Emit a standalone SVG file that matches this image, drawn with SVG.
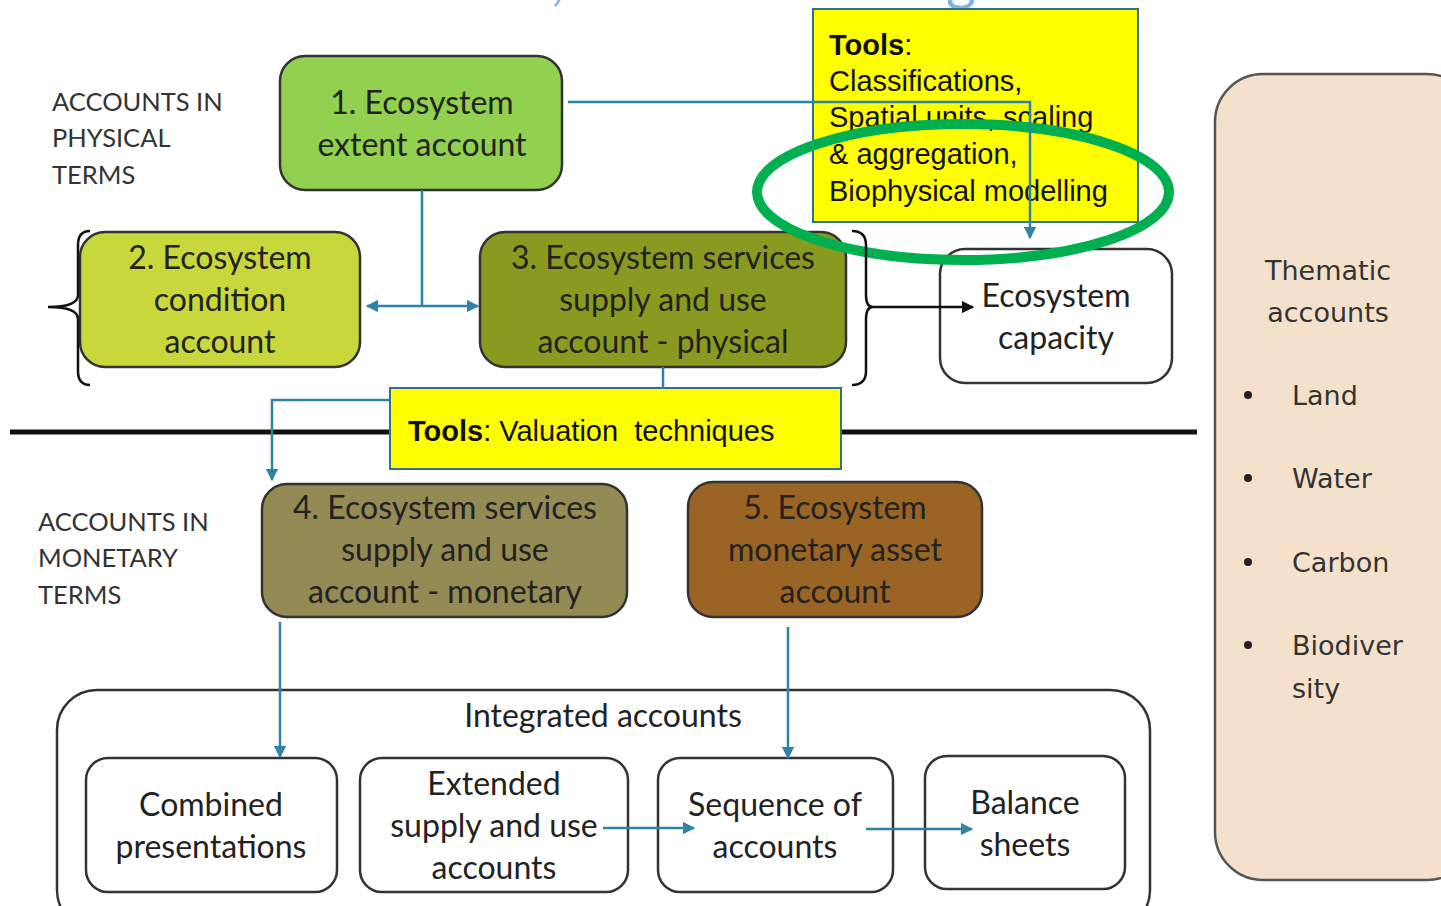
<svg xmlns="http://www.w3.org/2000/svg" width="1441" height="906" viewBox="0 0 1441 906">
<defs>
<style>
.t{font-family:Lato,"Open Sans",sans-serif;font-size:32px;fill:#222;text-anchor:middle}
.lbl{font-family:Lato,"Open Sans",sans-serif;font-size:25.5px;fill:#333}
.ar{font-family:"Liberation Sans",Arial,sans-serif;font-size:29px;fill:#111}
.th{font-family:"DejaVu Sans","Open Sans",sans-serif;font-size:27px;fill:#333}
.node{stroke:#333;stroke-width:2.5}
.wbox{fill:#fff;stroke:#333;stroke-width:2.5}
.con{fill:none;stroke:#2f84a6;stroke-width:2.5}
.blk{fill:none;stroke:#111;stroke-width:2.5}
</style>
<marker id="ab" viewBox="0 0 10 10" refX="9" refY="5" markerWidth="5" markerHeight="5" orient="auto-start-reverse"><path d="M0,0 L10,5 L0,10 z" fill="#2f84a6"/></marker>
<marker id="ak" viewBox="0 0 10 10" refX="9" refY="5" markerWidth="5" markerHeight="5" orient="auto"><path d="M0,0 L10,5 L0,10 z" fill="#111"/></marker>
</defs>
<rect width="1441" height="906" fill="#fff"/>
<text x="55" y="-1" font-family="Lato,sans-serif" font-size="58" fill="#7fb2e5">SEEA EEA accounts, tools and linkages</text>

<text class="lbl"><tspan x="52" y="111">ACCOUNTS IN</tspan><tspan x="52" y="147">PHYSICAL</tspan><tspan x="52" y="184">TERMS</tspan></text>
<text class="lbl"><tspan x="38" y="531">ACCOUNTS IN</tspan><tspan x="38" y="567">MONETARY</tspan><tspan x="38" y="604">TERMS</tspan></text>

<line x1="10" y1="432" x2="1197" y2="432" stroke="#111" stroke-width="5"/>

<g id="tools1">
<rect x="813" y="9" width="325" height="213" fill="#ffff00" stroke="#31708f" stroke-width="2"/>
<text class="ar"><tspan x="829" y="55" font-weight="bold">Tools</tspan><tspan>:</tspan><tspan x="829" y="91">Classifications,</tspan><tspan x="829" y="127">Spatial units, scaling</tspan><tspan x="829" y="164">&amp; aggregation,</tspan><tspan x="829" y="201">Biophysical modelling</tspan></text>
</g>

<g id="n1">
<rect class="node" x="280" y="56" width="282" height="134" rx="25" fill="#92d050"/>
<text class="t"><tspan x="422" y="114">1. Ecosystem</tspan><tspan x="422" y="156">extent account</tspan></text>
</g>
<g id="n2">
<rect class="node" x="80" y="232" width="280" height="135" rx="25" fill="#c8d73b"/>
<text class="t"><tspan x="220" y="269">2. Ecosystem</tspan><tspan x="220" y="311">condition</tspan><tspan x="220" y="353">account</tspan></text>
</g>
<g id="n3">
<rect class="node" x="480" y="232" width="366" height="135" rx="25" fill="#8a9a20"/>
<text class="t"><tspan x="663" y="269">3. Ecosystem services</tspan><tspan x="663" y="311">supply and use</tspan><tspan x="663" y="353">account - physical</tspan></text>
</g>
<g id="capacity">
<rect class="wbox" x="940" y="249" width="232" height="134" rx="25"/>
<text class="t"><tspan x="1056" y="307">Ecosystem</tspan><tspan x="1056" y="349">capacity</tspan></text>
</g>

<ellipse cx="963" cy="192" rx="206" ry="68" fill="none" stroke="#00b050" stroke-width="10"/>

<g id="tools2">
<rect x="390" y="388" width="451" height="81" fill="#ffff00" stroke="#31708f" stroke-width="2"/>
<text class="ar" x="408" y="441" xml:space="preserve"><tspan font-weight="bold">Tools</tspan>: Valuation  techniques</text>
</g>

<g id="n4">
<rect class="node" x="262" y="484" width="365" height="133" rx="25" fill="#948a54"/>
<text class="t"><tspan x="445" y="519">4. Ecosystem services</tspan><tspan x="445" y="561">supply and use</tspan><tspan x="445" y="603">account - monetary</tspan></text>
</g>
<g id="n5">
<rect class="node" x="688" y="482" width="294" height="135" rx="25" fill="#9a6424"/>
<text class="t"><tspan x="835" y="519">5. Ecosystem</tspan><tspan x="835" y="561">monetary asset</tspan><tspan x="835" y="603">account</tspan></text>
</g>

<g id="integrated">
<rect class="wbox" x="57" y="690" width="1093" height="240" rx="40"/>
<text class="t" x="603" y="727">Integrated accounts</text>
</g>
<g id="combined">
<rect class="wbox" x="86" y="758" width="251" height="134" rx="22"/>
<text class="t"><tspan x="211" y="816">Combined</tspan><tspan x="211" y="858">presentations</tspan></text>
</g>
<g id="extended">
<rect class="wbox" x="360" y="758" width="268" height="134" rx="22"/>
<text class="t"><tspan x="494" y="795">Extended</tspan><tspan x="494" y="837">supply and use</tspan><tspan x="494" y="879">accounts</tspan></text>
</g>
<g id="sequence">
<rect class="wbox" x="658" y="758" width="235" height="134" rx="22"/>
<text class="t"><tspan x="775" y="816">Sequence of</tspan><tspan x="775" y="858">accounts</tspan></text>
</g>
<g id="balance">
<rect class="wbox" x="925" y="756" width="200" height="133" rx="22"/>
<text class="t"><tspan x="1025" y="814">Balance</tspan><tspan x="1025" y="856">sheets</tspan></text>
</g>

<g id="thematic">
<rect x="1215" y="74" width="260" height="806" rx="48" fill="#f3e1cc" stroke="#555" stroke-width="2.5"/>
<text class="th" text-anchor="middle"><tspan x="1328" y="280">Thematic</tspan><tspan x="1328" y="322">accounts</tspan></text>
<g fill="#222"><circle cx="1248" cy="395" r="4"/><circle cx="1248" cy="478" r="4"/><circle cx="1248" cy="562" r="4"/><circle cx="1248" cy="645" r="4"/></g>
<text class="th"><tspan x="1292" y="405">Land</tspan><tspan x="1292" y="488">Water</tspan><tspan x="1292" y="572">Carbon</tspan><tspan x="1292" y="655">Biodiver</tspan><tspan x="1292" y="698">sity</tspan></text>
</g>

<g id="connectors">
<path class="con" d="M568,102 L1030,102 L1030,238" marker-end="url(#ab)"/>
<path class="con" d="M422,190 L422,306"/>
<path class="con" d="M367,306 L478,306" marker-start="url(#ab)" marker-end="url(#ab)"/>
<path class="con" d="M663,367 L663,388"/>
<path class="con" d="M390,400 L272,400 L272,480" marker-end="url(#ab)"/>
<path class="con" d="M280,622 L280,757" marker-end="url(#ab)"/>
<path class="con" d="M788,627 L788,758" marker-end="url(#ab)"/>
<path class="con" d="M603,828 L694,828" marker-end="url(#ab)"/>
<path class="con" d="M866,829 L972,829" marker-end="url(#ab)"/>
<path class="blk" d="M90,231 Q78,231 78,245 L78,295 Q78,307 48,307 Q78,307 78,319 L78,371 Q78,385 90,385"/>
<path class="blk" d="M852,231 Q866,231 866,245 L866,295 Q866,307 873,307 Q866,307 866,319 L866,371 Q866,385 852,385"/>
<path class="blk" d="M873,307 L973,307" marker-end="url(#ak)"/>
</g>
</svg>
